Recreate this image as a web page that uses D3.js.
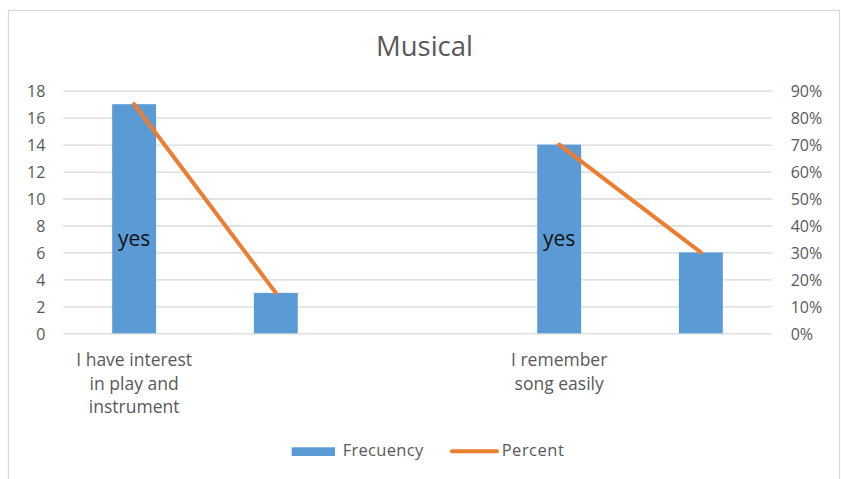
<!DOCTYPE html>
<html>
<head>
<meta charset="utf-8">
<script src="https://cdn.jsdelivr.net/npm/d3@7"></script>
<style>
  html, body { margin: 0; padding: 0; background: #fff; }
  svg { display: block; font-family: "Open Sans", Lato, sans-serif; }
</style>
</head>
<body>
<svg id="chart" width="841" height="479"></svg>
<script>
// ---- data ----
const title = "Musical";
const categories = [
  ["I have interest", "in play and", "instrument"],
  [],
  [],
  ["I remember", "song easily"],
  []
];
const frequency = [17, 3, null, 14, 6];
const percent = [0.85, 0.15, null, 0.70, 0.30];
const barLabels = ["yes", "", "", "yes", ""];
const leftTicks = [0, 2, 4, 6, 8, 10, 12, 14, 16, 18];
const rightTicks = [0, 0.1, 0.2, 0.3, 0.4, 0.5, 0.6, 0.7, 0.8, 0.9];
const seriesNames = ["Frecuency", "Percent"];

// ---- layout ----
const W = 841, H = 479;
const plot = { left: 63.3, right: 771.7, top: 90.7, bottom: 333.3 };
const blue = "#5B9BD5", orange = "#ED7D31", grid = "#d9d9d9", textGray = "#595959";
const labelLevel = 7;

const svg = d3.select("#chart");

// outer border
svg.append("rect")
  .attr("x", 8.5).attr("y", 10.5)
  .attr("width", 831).attr("height", 480)
  .attr("fill", "#fff").attr("stroke", "#d9d9d9").attr("stroke-width", 1.2);

const idx = categories.map((d, i) => i);
const x = d3.scaleBand().domain(idx).range([plot.left, plot.right])
  .paddingInner(0.69).paddingOuter(0.345);
const y = d3.scaleLinear().domain([0, 18]).range([plot.bottom, plot.top]);
const y2 = d3.scaleLinear().domain([0, 0.9]).range([plot.bottom, plot.top]);

// title
svg.append("text")
  .attr("x", (plot.left + plot.right) / 2 + 7).attr("y", 55.5)
  .attr("text-anchor", "middle")
  .attr("font-size", 27.5).attr("fill", textGray)
  .text(title);

// gridlines + left axis
const leftAxis = d3.axisLeft(y).tickValues(leftTicks)
  .tickSize(-(plot.right - plot.left)).tickPadding(18)
  .tickFormat(d3.format("d"));
const gL = svg.append("g").attr("transform", `translate(${plot.left},0)`).call(leftAxis);
gL.select(".domain").remove();
gL.selectAll(".tick line").attr("stroke", grid).attr("stroke-width", 1.3);
gL.selectAll(".tick text").attr("fill", textGray).attr("font-size", 16)
  .attr("font-family", "'Open Sans', sans-serif").attr("dy", "0.36em");

// right axis
const rightAxis = d3.axisRight(y2).tickValues(rightTicks)
  .tickSize(0).tickPadding(19).tickFormat(d3.format(".0%"));
const gR = svg.append("g").attr("transform", `translate(${plot.right},0)`).call(rightAxis);
gR.select(".domain").remove();
gR.selectAll(".tick text").attr("fill", textGray).attr("font-size", 16)
  .attr("font-family", "'Open Sans', sans-serif").attr("dy", "0.36em");

// bars
svg.append("g").selectAll("rect")
  .data(frequency.map((v, i) => ({ v, i })).filter(d => d.v != null))
  .join("rect")
  .attr("x", d => x(d.i))
  .attr("width", x.bandwidth())
  .attr("y", d => y(d.v))
  .attr("height", d => y(0) - y(d.v))
  .attr("fill", blue);

// bar labels
svg.append("g").selectAll("text")
  .data(barLabels.map((t, i) => ({ t, i })).filter(d => d.t))
  .join("text")
  .attr("x", d => x(d.i) + x.bandwidth() / 2)
  .attr("y", y(labelLevel))
  .attr("dy", "0.35em")
  .attr("text-anchor", "middle")
  .attr("font-size", 21).attr("fill", "#111")
  .text(d => d.t);

// line
const line = d3.line()
  .defined(d => d.v != null)
  .x(d => x(d.i) + x.bandwidth() / 2)
  .y(d => y2(d.v));
svg.append("path")
  .datum(percent.map((v, i) => ({ v, i })))
  .attr("d", line)
  .attr("fill", "none").attr("stroke", orange)
  .attr("stroke-width", 4).attr("stroke-linecap", "round").attr("stroke-linejoin", "round");

// category labels
const cat = svg.append("g").selectAll("text")
  .data(categories.map((lines, i) => ({ lines, i })).filter(d => d.lines.length))
  .join("text")
  .attr("text-anchor", "middle")
  .attr("font-size", 17.5).attr("fill", textGray);
cat.selectAll("tspan")
  .data(d => d.lines.map((l, k) => ({ l, k, i: d.i })))
  .join("tspan")
  .attr("x", d => x(d.i) + x.bandwidth() / 2)
  .attr("y", d => 366 + d.k * 23.6)
  .text(d => d.l);

// legend
const lg = svg.append("g");
lg.append("rect").attr("x", 291.7).attr("y", 447.3).attr("width", 43.3).attr("height", 8.7).attr("fill", blue);
lg.append("text").attr("x", 342.7).attr("y", 456.3).attr("font-size", 16.5).attr("fill", textGray)
  .attr("letter-spacing", 0.3).text(seriesNames[0]);
lg.append("line").attr("x1", 452).attr("x2", 497).attr("y1", 451.3).attr("y2", 451.3)
  .attr("stroke", orange).attr("stroke-width", 4).attr("stroke-linecap", "round");
lg.append("text").attr("x", 501.7).attr("y", 456.3).attr("font-size", 16.5).attr("fill", textGray)
  .attr("letter-spacing", 0.5).text(seriesNames[1]);
</script>
</body>
</html>
